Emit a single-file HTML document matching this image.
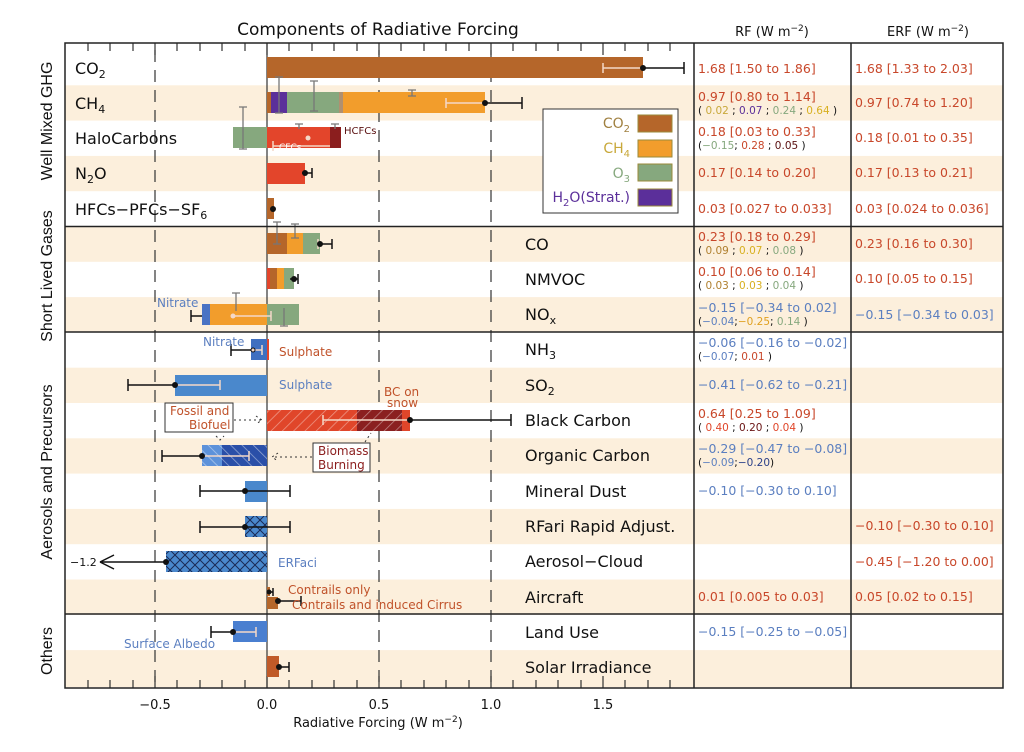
<!DOCTYPE html>
<html><head><meta charset="utf-8"><style>
body{margin:0;background:#fff}
svg{display:block;font-family:"DejaVu Sans","Liberation Sans",sans-serif}
</style></head><body>
<svg width="1024" height="752" viewBox="0 0 1024 752" xmlns="http://www.w3.org/2000/svg">
<defs>
<pattern id="h1" width="8" height="8" patternUnits="userSpaceOnUse" patternTransform="rotate(45)"><line x1="0" y1="0" x2="0" y2="8" stroke="#fff" stroke-opacity="0.45" stroke-width="1.5"/></pattern>
<pattern id="h2" width="8" height="8" patternUnits="userSpaceOnUse" patternTransform="rotate(-45)"><line x1="0" y1="0" x2="0" y2="8" stroke="#fff" stroke-opacity="0.5" stroke-width="1.5"/></pattern>
<pattern id="xh" width="10" height="10" patternUnits="userSpaceOnUse"><path d="M0 0L10 10M10 0L0 10" stroke="#1a2a55" stroke-width="1"/></pattern>
</defs>
<g fill="#fcefdc">
<rect x="65" y="85.3" width="938" height="35.3"/>
<rect x="65" y="155.9" width="938" height="35.3"/>
<rect x="65" y="226.5" width="938" height="35.3"/>
<rect x="65" y="297.1" width="938" height="35.3"/>
<rect x="65" y="367.7" width="938" height="35.3"/>
<rect x="65" y="438.3" width="938" height="35.3"/>
<rect x="65" y="508.9" width="938" height="35.3"/>
<rect x="65" y="579.5" width="938" height="35.3"/>
<rect x="65" y="650.1" width="938" height="37"/>
</g>
<g stroke="#333" stroke-width="1.2" stroke-dasharray="12,8">
<line x1="155" y1="50" x2="155" y2="688"/><line x1="379" y1="50" x2="379" y2="688"/><line x1="491" y1="50" x2="491" y2="688"/>
</g>
<line x1="267" y1="43" x2="267" y2="688" stroke="#333" stroke-width="1.2"/>
<g stroke="#333" stroke-width="1.2">
<path d="M88 43v8M110 43v8M133 43v8M155 43v12M177 43v8M200 43v8M222 43v8M245 43v8M267 43v12M289 43v8M312 43v8M334 43v8M357 43v8M379 43v12M401 43v8M424 43v8M446 43v8M469 43v8M491 43v12M513 43v8M536 43v8M558 43v8M581 43v8M603 43v12M625 43v8M648 43v8M670 43v8"/>
<path d="M88 688v-8M110 688v-8M133 688v-8M155 688v-12M177 688v-8M200 688v-8M222 688v-8M245 688v-8M267 688v-12M289 688v-8M312 688v-8M334 688v-8M357 688v-8M379 688v-12M401 688v-8M424 688v-8M446 688v-8M469 688v-8M491 688v-12M513 688v-8M536 688v-8M558 688v-8M581 688v-8M603 688v-12M625 688v-8M648 688v-8M670 688v-8"/>
</g>
<rect x="267" y="57" width="376" height="21" fill="#b5662a"/>
<rect x="267" y="92" width="4" height="21" fill="#b5662a"/>
<rect x="271" y="92" width="16" height="21" fill="#5b2f9a"/>
<rect x="287" y="92" width="52" height="21" fill="#86a87e"/>
<rect x="339" y="92" width="4" height="21" fill="#b09070"/>
<rect x="343" y="92" width="142" height="21" fill="#f29d2c"/>
<rect x="233" y="127" width="34" height="21" fill="#86a87e"/>
<rect x="267" y="127" width="63" height="21" fill="#e3452b"/>
<rect x="330" y="127" width="11" height="21" fill="#8b1e1e"/>
<rect x="267" y="163" width="38" height="21" fill="#e3452b"/>
<rect x="267" y="198" width="7" height="21" fill="#b5662a"/>
<rect x="267" y="233" width="20" height="21" fill="#b5662a"/>
<rect x="287" y="233" width="16" height="21" fill="#f29d2c"/>
<rect x="303" y="233" width="17" height="21" fill="#86a87e"/>
<rect x="267" y="268" width="3" height="21" fill="#e3452b"/>
<rect x="270" y="268" width="7" height="21" fill="#b5662a"/>
<rect x="277" y="268" width="7" height="21" fill="#f29d2c"/>
<rect x="284" y="268" width="10" height="21" fill="#86a87e"/>
<rect x="202" y="304" width="8" height="21" fill="#4a73c4"/>
<rect x="210" y="304" width="57" height="21" fill="#f29d2c"/>
<rect x="267" y="304" width="32" height="21" fill="#86a87e"/>
<rect x="251" y="339" width="16" height="21" fill="#3f6fc0"/>
<rect x="267" y="339" width="2" height="21" fill="#e3452b"/>
<rect x="175" y="375" width="92" height="21" fill="#4a88cc"/>
<rect x="267" y="410" width="90" height="21" fill="#e0462a"/>
<rect x="267" y="410" width="90" height="21" fill="url(#h1)"/>
<rect x="357" y="410" width="45" height="21" fill="#8b2020"/>
<rect x="357" y="410" width="45" height="21" fill="url(#h1)"/>
<rect x="402" y="410" width="8" height="21" fill="#e0462a"/>
<rect x="202" y="445" width="20" height="21" fill="#5d92da"/>
<rect x="222" y="445" width="45" height="21" fill="#2a4fa8"/>
<rect x="202" y="445" width="65" height="21" fill="url(#h2)"/>
<rect x="245" y="481" width="22" height="21" fill="#4a88cc"/>
<rect x="245" y="516" width="22" height="21" fill="#4a88cc"/>
<rect x="245" y="516" width="22" height="21" fill="url(#xh)"/>
<rect x="166" y="551" width="101" height="21" fill="#4a88cc"/>
<rect x="166" y="551" width="101" height="21" fill="url(#xh)"/>
<rect x="267" y="587" width="3" height="9" fill="#b5662a"/>
<rect x="267" y="597" width="11" height="12" fill="#b5662a"/>
<rect x="233" y="621" width="34" height="21" fill="#4a7fd0"/>
<rect x="267" y="656" width="12" height="21" fill="#c05a28"/>

<g stroke="#f4d8c8" stroke-width="1.5" fill="none">
<path d="M603 68H643M603 63v10"/>
<path d="M446 103H485M446 98v10"/>
<path d="M273 146H330M273 141v10"/>
<path d="M233 316H271M271 311v10"/>
<path d="M321 244h-4M318 239v10"/>
<path d="M175 385H220M220 380v10"/>
<path d="M323 420H410M323 415v10"/>
<path d="M202 456H249M249 451v10"/>
<path d="M233 632H256M256 627v10"/>
<path d="M253 350H262M262 345v10"/>
</g>
<g stroke="#777" stroke-width="1.3" fill="none">
<path d="M279 77v36M275 77h8M275 113h8"/>
<path d="M314 81v30M310 81h8M310 111h8"/>
<path d="M412 90v6M408 90h8M408 96h8"/>
<path d="M243 107v42M239 107h8M239 149h8"/>
<path d="M299 124v5M295 124h8"/>
<path d="M335 124v5M331 124h8"/>
<path d="M277 222v22M273 222h8M273 244h8"/>
<path d="M295 224v14M291 224h8M291 238h8"/>
<path d="M284 308v18M280 326h8"/>
<path d="M236 293v18M232 293h8"/>
</g>
<g stroke="#111" stroke-width="1.5" fill="none">
<path d="M643 68H684M684 62v12"/>
<path d="M485 103H522M522 97v12"/>
<path d="M302 173H312M312 168v10"/>
<path d="M320 244H332M332 239v10"/>
<path d="M290 279H298M298 274v10"/>
<path d="M191 316H202M191 310v12"/>
<path d="M231 350H253M231 344v12"/>
<path d="M128 385H175M128 379v12"/>
<path d="M410 420H511M511 414v12"/>
<path d="M162 456H202M162 450v12"/>
<path d="M200 491H290M200 485v12M290 485v12"/>
<path d="M200 527H290M200 521v12M290 521v12"/>
<path d="M100 562H166M100 562l14-7M100 562l14 7"/>
<path d="M269 592H273M273 588v8"/>
<path d="M278 601H301M301 596v10"/>
<path d="M211 632H233M211 626v12"/>
<path d="M279 667H289M289 662v10"/>
</g>
<g fill="#111">
<circle cx="643" cy="68" r="3"/><circle cx="485" cy="103" r="3"/><circle cx="305" cy="173" r="3"/>
<circle cx="273" cy="209" r="3"/><circle cx="320" cy="244" r="3"/><circle cx="294" cy="279" r="3"/>
<circle cx="253" cy="350" r="2.5"/><circle cx="175" cy="385" r="3"/><circle cx="410" cy="420" r="3"/>
<circle cx="202" cy="456" r="3"/><circle cx="245" cy="491" r="3"/><circle cx="245" cy="527" r="3"/>
<circle cx="166" cy="562" r="3"/><circle cx="269" cy="592" r="2.5"/><circle cx="278" cy="601" r="3"/>
<circle cx="233" cy="632" r="3"/><circle cx="279" cy="667" r="3"/>
</g>
<g fill="#f4d8c8"><circle cx="308" cy="138" r="2.5"/><circle cx="233" cy="316" r="2.5"/><circle cx="253" cy="350" r="1.5"/></g>

<g font-size="11" fill="#c0522a">
<text x="344" y="134" fill="#5a1010" font-size="10">HCFCs</text>
<text x="279" y="150" fill="#fff" font-size="9">CFCs</text>
<text x="157" y="307" fill="#5b7fc0" font-size="12">Nitrate</text>
<text x="203" y="346" fill="#5b7fc0" font-size="12">Nitrate</text>
<text x="279" y="356" font-size="12">Sulphate</text>
<text x="279" y="389" fill="#5b7fc0" font-size="12">Sulphate</text>
<text x="384" y="396" font-size="12">BC on</text>
<text x="387" y="407" font-size="12">snow</text>
<text x="278" y="567" fill="#5b7fc0" font-size="12">ERFaci</text>
<text x="288" y="594" font-size="12">Contrails only</text>
<text x="292" y="609" font-size="12">Contrails and induced Cirrus</text>
<text x="124" y="648" fill="#5b7fc0" font-size="12">Surface Albedo</text>
<text x="70" y="566" fill="#111" font-size="11">−1.2</text>
</g>
<rect x="165" y="403" width="68" height="29" fill="#fff" stroke="#333"/>
<text x="170" y="415" font-size="12" fill="#c0522a">Fossil and</text>
<text x="189" y="429" font-size="12" fill="#c0522a">Biofuel</text>
<rect x="313" y="443" width="57" height="29" fill="#fff" stroke="#333"/>
<text x="318" y="455" font-size="12" fill="#8b1e1e">Biomass</text>
<text x="318" y="469" font-size="12" fill="#8b1e1e">Burning</text>
<g stroke="#333" stroke-dasharray="2,3" fill="none">
<path d="M234 420H262M256 416l6 4-6 4"/>
<path d="M312 457H272M278 453l-6 4 6 4"/>
<path d="M365 442L371 433M216 436l4 4 4-4"/>
</g>

<rect x="543" y="109" width="135" height="104" fill="#fff" stroke="#333"/>
<g font-size="14" text-anchor="end">
<text x="630" y="128" fill="#a08040">CO<tspan font-size="10" dy="4">2</tspan></text>
<text x="630" y="153" fill="#c8a83a">CH<tspan font-size="10" dy="4">4</tspan></text>
<text x="630" y="178" fill="#86a87e">O<tspan font-size="10" dy="4">3</tspan></text>
<text x="630" y="202" fill="#5b2f9a">H<tspan font-size="10" dy="4">2</tspan><tspan dy="-4">O(Strat.)</tspan></text>
</g>
<rect x="638" y="115" width="34" height="17" fill="#b5662a" stroke="#9a8a3a"/>
<rect x="638" y="140" width="34" height="17" fill="#f29d2c" stroke="#9a8a3a"/>
<rect x="638" y="164" width="34" height="17" fill="#86a87e" stroke="#9a8a3a"/>
<rect x="638" y="189" width="34" height="17" fill="#5b2f9a" stroke="#9a8a3a"/>

<g stroke="#222" stroke-width="1.5" fill="none">
<rect x="65" y="43" width="938" height="645"/>
<line x1="694" y1="43" x2="694" y2="688"/>
<line x1="851" y1="43" x2="851" y2="688"/>
<line x1="65" y1="226.5" x2="1003" y2="226.5"/>
<line x1="65" y1="332" x2="1003" y2="332"/>
<line x1="65" y1="614" x2="1003" y2="614"/>
</g>

<g font-size="16" fill="#111">
<text x="75" y="74">CO<tspan font-size="11" dy="4">2</tspan></text>
<text x="75" y="109">CH<tspan font-size="11" dy="4">4</tspan></text>
<text x="75" y="144">HaloCarbons</text>
<text x="75" y="179">N<tspan font-size="11" dy="4">2</tspan><tspan dy="-4">O</tspan></text>
<text x="75" y="215">HFCs−PFCs−SF<tspan font-size="11" dy="4">6</tspan></text>
<text x="525" y="250">CO</text>
<text x="525" y="285">NMVOC</text>
<text x="525" y="320">NO<tspan font-size="11" dy="4">x</tspan></text>
<text x="525" y="355">NH<tspan font-size="11" dy="4">3</tspan></text>
<text x="525" y="391">SO<tspan font-size="11" dy="4">2</tspan></text>
<text x="525" y="426">Black Carbon</text>
<text x="525" y="461">Organic Carbon</text>
<text x="525" y="497">Mineral Dust</text>
<text x="525" y="532">RFari Rapid Adjust.</text>
<text x="525" y="567">Aerosol−Cloud</text>
<text x="525" y="603">Aircraft</text>
<text x="525" y="638">Land Use</text>
<text x="525" y="673">Solar Irradiance</text>
</g>
<g font-size="16" fill="#111" text-anchor="middle" font-family="Liberation Sans, sans-serif">
<text transform="translate(52,121) rotate(-90)">Well Mixed GHG</text>
<text transform="translate(52,276) rotate(-90)">Short Lived Gases</text>
<text transform="translate(52,472) rotate(-90)">Aerosols and Precursors</text>
<text transform="translate(52,651) rotate(-90)">Others</text>
</g>
<g font-size="16" fill="#111" text-anchor="middle">
<text x="378" y="35" font-size="17">Components of Radiative Forcing</text>
<text x="772" y="36" font-size="13">RF (W m<tspan font-size="9" dy="-5">−2</tspan><tspan dy="5">)</tspan></text>
<text x="928" y="36" font-size="13">ERF (W m<tspan font-size="9" dy="-5">−2</tspan><tspan dy="5">)</tspan></text>
<text x="155" y="709" font-size="13">−0.5</text>
<text x="267" y="709" font-size="13">0.0</text>
<text x="379" y="709" font-size="13">0.5</text>
<text x="491" y="709" font-size="13">1.0</text>
<text x="603" y="709" font-size="13">1.5</text>
<text x="378" y="727" font-size="13">Radiative Forcing (W m<tspan font-size="9" dy="-5">−2</tspan><tspan dy="5">)</tspan></text>
</g>

<g font-size="12.5" fill="#c8472a">
<text x="698" y="73">1.68 [1.50 to 1.86]</text>
<text x="855" y="73">1.68 [1.33 to 2.03]</text>
<text x="698" y="101">0.97 [0.80 to 1.14]</text>
<text x="855" y="107">0.97 [0.74 to 1.20]</text>
<text x="698" y="136">0.18 [0.03 to 0.33]</text>
<text x="855" y="142">0.18 [0.01 to 0.35]</text>
<text x="698" y="177">0.17 [0.14 to 0.20]</text>
<text x="855" y="177">0.17 [0.13 to 0.21]</text>
<text x="698" y="213">0.03 [0.027 to 0.033]</text>
<text x="855" y="213">0.03 [0.024 to 0.036]</text>
<text x="698" y="241">0.23 [0.18 to 0.29]</text>
<text x="855" y="248">0.23 [0.16 to 0.30]</text>
<text x="698" y="276">0.10 [0.06 to 0.14]</text>
<text x="855" y="283">0.10 [0.05 to 0.15]</text>
<text x="698" y="312" fill="#5b7fc0">−0.15 [−0.34 to 0.02]</text>
<text x="855" y="319" fill="#5b7fc0">−0.15 [−0.34 to 0.03]</text>
<text x="698" y="347" fill="#5b7fc0">−0.06 [−0.16 to −0.02]</text>
<text x="698" y="389" fill="#5b7fc0">−0.41 [−0.62 to −0.21]</text>
<text x="698" y="418">0.64 [0.25 to 1.09]</text>
<text x="698" y="453" fill="#5b7fc0">−0.29 [−0.47 to −0.08]</text>
<text x="698" y="495" fill="#5b7fc0">−0.10 [−0.30 to 0.10]</text>
<text x="855" y="530">−0.10 [−0.30 to 0.10]</text>
<text x="855" y="566">−0.45 [−1.20 to 0.00]</text>
<text x="698" y="601">0.01 [0.005 to 0.03]</text>
<text x="855" y="601">0.05 [0.02 to 0.15]</text>
<text x="698" y="636" fill="#5b7fc0">−0.15 [−0.25 to −0.05]</text>
</g>
<g font-size="10.5" fill="#111">
<text x="698" y="114">( <tspan fill="#c8a83a">0.02</tspan> ; <tspan fill="#5b2f9a">0.07</tspan> ; <tspan fill="#86a87e">0.24</tspan> ; <tspan fill="#d8b020">0.64</tspan> )</text>
<text x="698" y="149">(<tspan fill="#86a87e">−0.15</tspan>; <tspan fill="#c8472a">0.28</tspan> ; <tspan fill="#5a1010">0.05</tspan> )</text>
<text x="698" y="254">( <tspan fill="#b08030">0.09</tspan> ; <tspan fill="#d8b020">0.07</tspan> ; <tspan fill="#86a87e">0.08</tspan> )</text>
<text x="698" y="289">( <tspan fill="#b08030">0.03</tspan> ; <tspan fill="#d8b020">0.03</tspan> ; <tspan fill="#86a87e">0.04</tspan> )</text>
<text x="698" y="325">(<tspan fill="#5b7fc0">−0.04</tspan>;<tspan fill="#e0a020">−0.25</tspan>; <tspan fill="#86a87e">0.14</tspan> )</text>
<text x="698" y="360">(<tspan fill="#5b7fc0">−0.07</tspan>; <tspan fill="#c8472a">0.01</tspan> )</text>
<text x="698" y="431">( <tspan fill="#e0462a">0.40</tspan> ; <tspan fill="#6a1515">0.20</tspan> ; <tspan fill="#e0462a">0.04</tspan> )</text>
<text x="698" y="466">(<tspan fill="#5b7fc0">−0.09</tspan>;<tspan fill="#2a3f88">−0.20</tspan>)</text>
</g>
</svg>
</body></html>
